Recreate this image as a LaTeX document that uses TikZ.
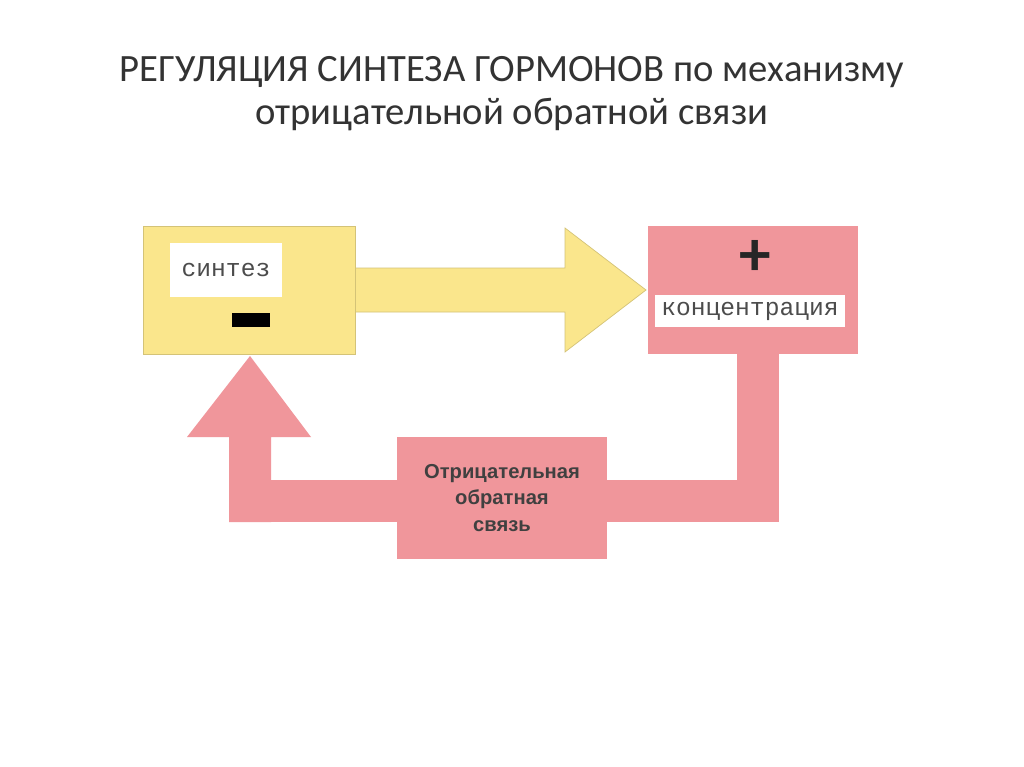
\documentclass[tikz,border=0pt]{standalone}
\usepackage{fontspec}
\setmainfont{Carlito}
\newfontfamily\monofont{Liberation Mono}
\newfontfamily\boldsans{Liberation Sans}
\definecolor{hormyellow}{RGB}{250,230,140}
\definecolor{hormpink}{RGB}{240,150,155}
\begin{document}
\begin{tikzpicture}[x=0.02cm,y=-0.02cm,
                yellow part/.style={fill=hormyellow, draw=hormyellow!85!black, thin},
                pink part/.style={fill=hormpink, draw=none},
                white box/.style={fill=white, draw=none, inner sep=0pt, font=\monofont\fontsize{14}{16}\selectfont, text=black!70}]

            \useasboundingbox[fill=white] (0,0) rectangle (1024,767);

            % title
            \node[font=\fontsize{22}{24.5}\selectfont, align=center, text=black!80] (title) at (512,94)
                {РЕГУЛЯЦИЯ СИНТЕЗА ГОРМОНОВ по механизму\\отрицательной обратной связи};

            % feedback path
            \fill[hormpink] (737,354) rectangle (779,522);
            \fill[hormpink] (229,480) rectangle (779,522);
            \fill[hormpink] (229,522) -- (229,437) -- (187,437) -- (250,356) -- (311,437) -- (271,437) -- (271,522) -- cycle;

            % yellow arrow
            \draw[yellow part] (355,268) -- (565,268) -- (565,228) -- (646,290) -- (565,352) -- (565,312) -- (355,312);

            % boxes
            \node[yellow part, minimum width=4.24cm, minimum height=2.56cm, inner sep=0pt] (synth) at (249,290) {};
            \node[pink part, minimum width=4.2cm, minimum height=2.56cm, inner sep=0pt] (conc) at (753,290) {};
            \node[pink part, minimum width=4.22cm, minimum height=2.46cm, inner sep=0pt, align=center,
                  font=\boldsans\bfseries\fontsize{11.5}{15}\selectfont, text=black!75] (fb) at (502,498)
                {Отрицательная\\обратная\\связь};

            \node[white box, minimum width=2.26cm, minimum height=1.1cm] (synthlbl) at (226,270) {синтез};
            \fill[black] (232,313) rectangle (270,327);
            \node[white box, minimum width=3.8cm, minimum height=0.66cm] (conclbl) at (750,311) {концентрация};
            \node[font=\fontsize{36}{36}\selectfont\bfseries, text=black!85] (plus) at (755,258) {+};

        \end{tikzpicture}
\end{document}
